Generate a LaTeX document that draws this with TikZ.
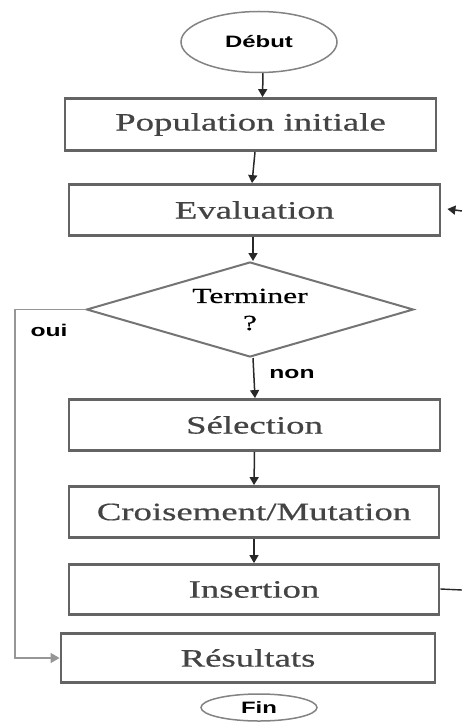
\documentclass[tikz,border=0pt]{standalone}
\usepackage{fontspec}
\setmainfont{Liberation Serif}
\newfontfamily\boxfont[FakeStretch=1.47,FakeBold=0.6]{Liberation Serif}
\newfontfamily\tagfont[FakeStretch=1.45]{Liberation Sans}
\usetikzlibrary{shapes.geometric,arrows.meta}
\definecolor{frame}{RGB}{100,100,100}
\definecolor{labelgray}{RGB}{68,68,68}
\definecolor{flow}{RGB}{40,40,40}
\definecolor{yesline}{RGB}{150,150,150}
\begin{document}
\begin{tikzpicture}[x=1pt,y=-1pt,
  stepbox/.style={draw=frame,line width=2.8pt,rectangle,inner sep=0pt,
    minimum width=370pt,minimum height=51pt,text=labelgray,
    font=\boxfont\fontsize{25}{28}\selectfont},
  terminal/.style={draw=frame!80,line width=1.5pt,ellipse,inner sep=0pt,
    font=\tagfont\bfseries\fontsize{16.5}{18}\selectfont},
  test/.style={draw=frame!90,line width=2pt,diamond,aspect=3.44,inner sep=0pt,
    minimum width=327pt,minimum height=95pt,align=center,text=black,
    font=\boxfont\fontsize{21.5}{27}\selectfont},
  tag/.style={font=\tagfont\bfseries\fontsize{17}{18}\selectfont},
  flowarrow/.style={draw=flow,line width=1.5pt,
    -{Triangle[length=8pt,width=9pt]}},
  yesarrow/.style={draw=yesline,line width=1.4pt,
    -{Triangle[length=9pt,width=10pt]}}]
\useasboundingbox (0,0) rectangle (462,722);

% start and end terminals
\node[terminal,minimum width=156pt,minimum height=61pt] (debut) at (259,42) {Début};
\node[terminal,minimum width=116pt,minimum height=27pt] (fin) at (259,707.5) {Fin};

% process steps
\node[stepbox,minimum width=371pt,minimum height=52pt] (pop) at (250.5,124.5) {Population initiale};
\node[stepbox,minimum width=371pt] (eval) at (254.5,210) {Evaluation};
\node[test] (term) at (250,309.5) {Terminer\\?};
\node[stepbox,minimum width=371pt] (sel) at (254.5,425) {Sélection};
\node[stepbox] (cross) at (254,512) {Croisement/Mutation};
\node[stepbox,minimum height=50pt] (ins) at (254,589.5) {Insertion};
\node[stepbox,minimum width=374pt,minimum height=49pt] (res) at (248,658) {Résultats};

% branch labels
\node[tag] (oui) at (49,330) {oui};
\node[tag] (non) at (292,374) {non};

% loop ends leaving the frame on the right
\coordinate (loopin) at (462,211);
\coordinate (loopout) at (462,590);
\coordinate (yescorner) at (15,309.5);

% main flow
\draw[flowarrow] ([xshift=4pt]debut.south) -- ([xshift=3.5pt]debut.south |- pop.north);
\draw[flowarrow] ([xshift=4.5pt]pop.south) -- ([xshift=-2.5pt]eval.north);
\draw[flowarrow] ([xshift=-1.5pt]eval.south) -- (term.north -| 253,0);
\draw[flowarrow] (term.south -| 253,0) -- (sel.north -| 255,0);
\draw[flowarrow] (sel.south) -- (cross.north);
\draw[flowarrow] (cross.south) -- (ins.north);

% loop back to the evaluation
\draw[flowarrow] (loopin) -- ([xshift=6pt,yshift=1pt]eval.east);
\draw[draw=flow,line width=1.4pt] ([yshift=0.5pt]ins.east) -- (loopout);

% exit on "oui"
\draw[yesarrow] (term.west) -- (yescorner) |- (res.west);
\end{tikzpicture}
\end{document}
